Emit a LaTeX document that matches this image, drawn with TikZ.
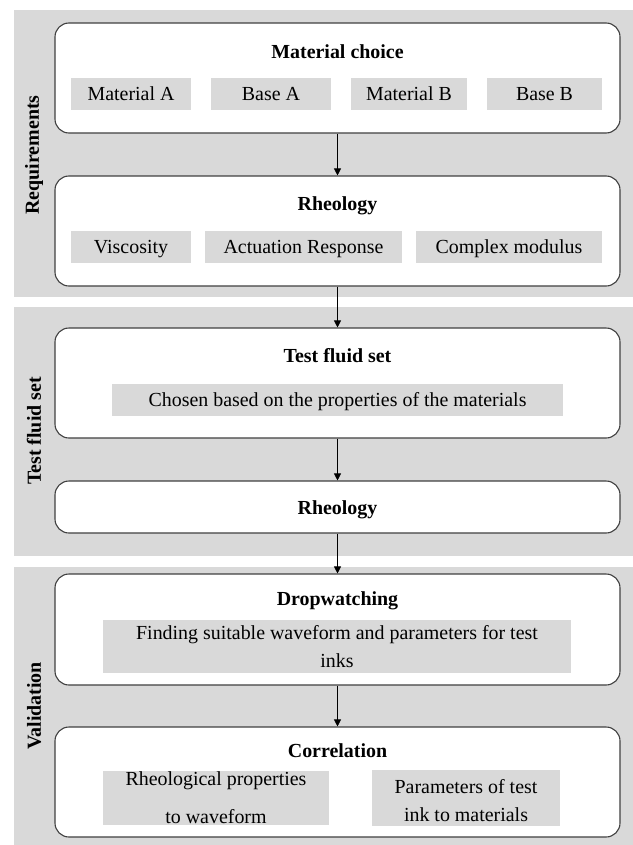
\documentclass[tikz,border=0pt]{standalone}
\usepackage{fontspec}
\setmainfont{Liberation Serif}
\usetikzlibrary{arrows.meta}
\definecolor{panelgray}{HTML}{D9D9D9}
\definecolor{itemgray}{HTML}{D9D9D9}
\definecolor{edgegray}{HTML}{404040}
\begin{document}
\begin{tikzpicture}[x=1bp,y=-1bp,
  panel/.style={fill=panelgray, draw=none, minimum width=619bp, inner sep=0pt},
  box/.style={draw=edgegray, line width=1.1bp, fill=white, rounded corners=14bp, minimum width=565bp, inner sep=0pt},
  itembox/.style={fill=itemgray, draw=none, inner sep=0pt, font=\fontsize{20}{28}\selectfont, align=center},
  item/.style={itembox, text height=14bp, text depth=1bp, minimum height=32bp},
  titletext/.style={font=\fontsize{20}{24}\selectfont\bfseries, anchor=base, inner sep=0pt},
  sidetext/.style={font=\fontsize{20}{24}\selectfont\bfseries, rotate=90, inner sep=0pt},
  arr/.style={-{Triangle[length=7bp,width=7bp]}, line width=0.8bp, black}]

\useasboundingbox (0,0) rectangle (633,845);

% panels
\node[panel, minimum height=287bp] (p1) at (323.5,153.5) {};
\node[panel, minimum height=249bp] (p2) at (323.5,431.5) {};
\node[panel, minimum height=278bp] (p3) at (323.5,706) {};

% side labels
\node[sidetext] (s1) at (34,155) {Requirements};
\node[sidetext] (s2) at (34,431) {Test fluid set};
\node[sidetext] (s3) at (34,706) {Validation};

% boxes
\node[box, minimum height=110bp] (b1) at (337.5,78) {};
\node[box, minimum height=110bp] (b2) at (337.5,231) {};
\node[box, minimum height=110bp] (b3) at (337.5,383) {};
\node[box, minimum height=52bp]  (b4) at (337.5,507) {};
\node[box, minimum height=111bp] (b5) at (337.5,629.5) {};
\node[box, minimum height=110bp] (b6) at (337.5,782) {};

% titles
\node[titletext] (t1) at (337.5,58) {Material choice};
\node[titletext] (t2) at (337.5,210) {Rheology};
\node[titletext] (t3) at (337.5,362) {Test fluid set};
\node[titletext] (t4) at (337.5,514) {Rheology};
\node[titletext] (t5) at (337.5,605) {Dropwatching};
\node[titletext] (t6) at (337.5,757) {Correlation};

% items
\node[item, minimum width=120bp] (i11) at (131,94) {Material A};
\node[item, minimum width=120bp] (i12) at (271,94) {Base A};
\node[item, minimum width=116bp] (i13) at (409,94) {Material B};
\node[item, minimum width=115bp] (i14) at (544.5,94) {Base B};

\node[item, minimum width=120bp] (i21) at (131,247) {Viscosity};
\node[item, minimum width=197bp] (i22) at (303.5,247) {Actuation Response};
\node[item, minimum width=186bp] (i23) at (509,247) {Complex modulus};

\node[item, minimum width=451bp] (i31) at (337.5,400) {Chosen based on the properties of the materials};

\node[itembox, minimum width=468bp, minimum height=53bp] (i51) at (337,646.5) {Finding suitable waveform and parameters for test\\inks};

\node[itembox, minimum width=226bp, minimum height=54bp] (i61) at (216,798) {Rheological properties\\[10bp]to waveform};
\node[itembox, minimum width=188bp, minimum height=54bp] (i62) at (466,798) {\raisebox{-4bp}[\height][\depth]{\begin{tabular}{@{}c@{}}Parameters of test\\ink to materials\end{tabular}}};

% arrows
\draw[arr] (b1.south) -- (b2.north);
\draw[arr] (b2.south) -- (b3.north);
\draw[arr] (b3.south) -- (b4.north);
\draw[arr] (b4.south) -- (b5.north);
\draw[arr] (b5.south) -- (b6.north);
\end{tikzpicture}
\end{document}
